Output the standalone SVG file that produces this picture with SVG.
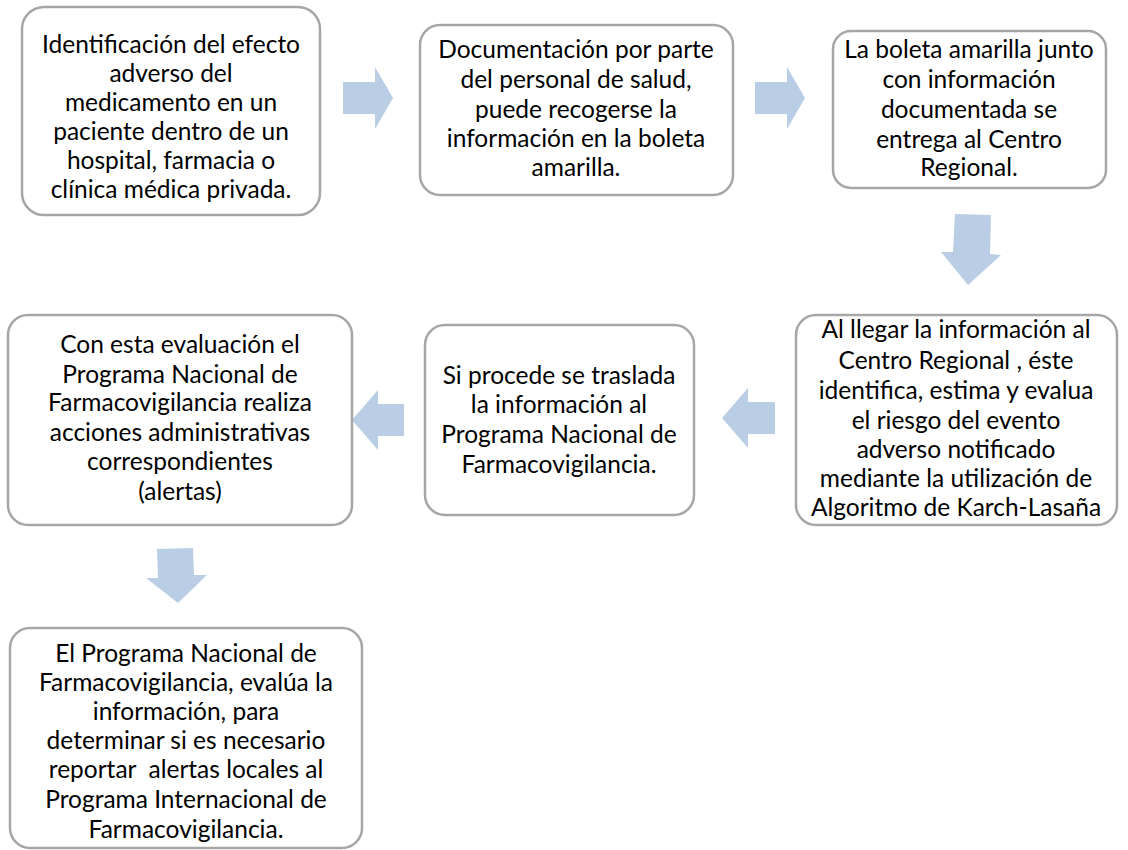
<svg xmlns="http://www.w3.org/2000/svg" width="1128" height="850" viewBox="0 0 1128 850">
<style>
.box{fill:#ffffff;stroke:#a6a6a6;stroke-width:2.5}
.arr{fill:#b9cde5;stroke:none}
text{font-family:Lato,"Liberation Sans",sans-serif;font-size:24.5px;fill:#000;text-anchor:middle}
</style>
<rect width="1128" height="850" fill="#ffffff"/>
<g id="connectors">
<polygon class="arr" points="343,82 375,82 375,67 393,98 375,129 375,114 343,114"/>
<polygon class="arr" points="755,82 787,82 787,67 805,98 787,129 787,114 755,114"/>
<polygon class="arr" points="955,214 991,215 990,254 1001,255 968,285 941,252 953,252"/>
<polygon class="arr" points="775,402 748,402 748,388 722,418 748,448 748,434 775,434"/>
<polygon class="arr" points="404,404 378,404 378,390 352,420 378,450 378,436 404,436"/>
<polygon class="arr" points="157,549 193,548 194,575 207,575 178,603 146,578 158,578"/>
</g>
<g id="n1">
<rect class="box" x="22" y="7" width="298" height="208" rx="22"/>
<text x="171" y="53">Identificación del efecto</text>
<text x="171" y="82">adverso del</text>
<text x="171" y="111">medicamento en un</text>
<text x="171" y="140">paciente dentro de un</text>
<text x="171" y="169">hospital, farmacia o</text>
<text x="171" y="198">clínica médica privada.</text>
</g>
<g id="n2">
<rect class="box" x="420" y="25" width="313" height="170" rx="20"/>
<text x="576" y="58">Documentación por parte</text>
<text x="576" y="88">del personal de salud,</text>
<text x="576" y="118">puede recogerse la</text>
<text x="576" y="147">información en la boleta</text>
<text x="576" y="176">amarilla.</text>
</g>
<g id="n3">
<rect class="box" x="833" y="31" width="273" height="157" rx="18"/>
<text x="969" y="58">La boleta amarilla junto</text>
<text x="969" y="88">con información</text>
<text x="969" y="118">documentada se</text>
<text x="969" y="148">entrega al Centro</text>
<text x="969" y="176">Regional.</text>
</g>
<g id="n4">
<rect class="box" x="796" y="315" width="321" height="210" rx="20"/>
<text x="956" y="338">Al llegar la información al</text>
<text x="956" y="369">Centro Regional , éste</text>
<text x="956" y="399">identifica, estima y evalua</text>
<text x="956" y="429">el riesgo del evento</text>
<text x="956" y="458">adverso notificado</text>
<text x="956" y="487">mediante la utilización de</text>
<text x="956" y="516">Algoritmo de Karch-Lasaña</text>
</g>
<g id="n5">
<rect class="box" x="425" y="325" width="269" height="190" rx="20"/>
<text x="559" y="384">Si procede se traslada</text>
<text x="559" y="413">la información al</text>
<text x="559" y="443">Programa Nacional de</text>
<text x="559" y="473">Farmacovigilancia.</text>
</g>
<g id="n6">
<rect class="box" x="8" y="315" width="344" height="210" rx="20"/>
<text x="180" y="353">Con esta evaluación el</text>
<text x="180" y="383">Programa Nacional de</text>
<text x="180" y="411">Farmacovigilancia realiza</text>
<text x="180" y="441">acciones administrativas</text>
<text x="180" y="470">correspondientes</text>
<text x="180" y="500">(alertas)</text>
</g>
<g id="n7">
<rect class="box" x="10" y="628" width="352" height="220" rx="20"/>
<text x="186" y="662">El Programa Nacional de</text>
<text x="186" y="691">Farmacovigilancia, evalúa la</text>
<text x="186" y="720">información, para</text>
<text x="186" y="749">determinar si es necesario</text>
<text x="186" y="778" xml:space="preserve">reportar  alertas locales al</text>
<text x="186" y="808">Programa Internacional de</text>
<text x="186" y="838">Farmacovigilancia.</text>
</g>
</svg>
